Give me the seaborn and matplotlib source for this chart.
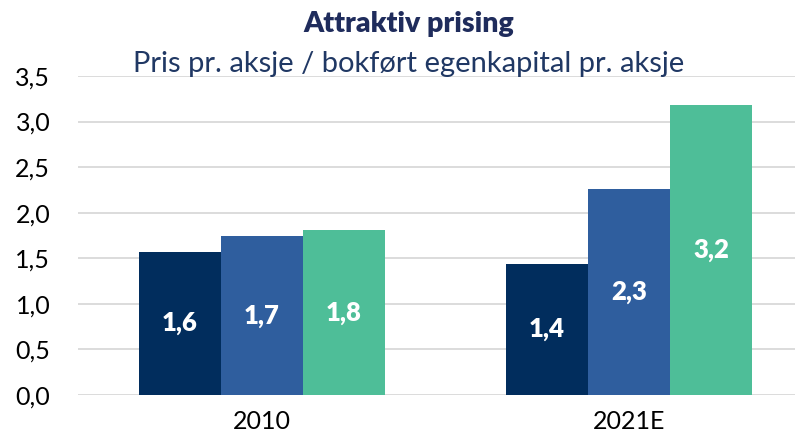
import matplotlib
matplotlib.use("Agg")
import matplotlib.pyplot as plt
import seaborn as sns
import pandas as pd

categories = ["2010", "2021E"]
series = ["Serie 1", "Serie 2", "Serie 3"]
values_s1 = [1.57, 1.44]
values_s2 = [1.74, 2.26]
values_s3 = [1.81, 3.18]
y_ticks = [0.0, 0.5, 1.0, 1.5, 2.0, 2.5, 3.0, 3.5]
title = "Attraktiv prising"
subtitle = "Pris pr. aksje / bokført egenkapital pr. aksje"
colors = ["#012D5D", "#2F5E9E", "#4EBE98"]

rows = []
for s, vals in zip(series, [values_s1, values_s2, values_s3]):
    for c, v in zip(categories, vals):
        rows.append({"kategori": c, "serie": s, "verdi": v})
df = pd.DataFrame(rows)

sns.set_theme(style="white")
plt.rcParams["font.family"] = ["Lato", "DejaVu Sans"]

fig = plt.figure(figsize=(7.95, 4.41), dpi=100)
ax = fig.add_axes([78 / 795, 46 / 441, (812.75 - 78) / 795, (395 - 76) / 441])

sns.barplot(data=df, x="kategori", y="verdi", hue="serie", order=categories,
            hue_order=series, palette=colors, width=0.67, saturation=1,
            legend=False, ax=ax, edgecolor="none", linewidth=0)

for cont in ax.containers:
    labels = [f"{b.get_height():.1f}".replace(".", ",") for b in cont]
    ax.bar_label(cont, labels=labels, label_type="center", color="white",
                 fontweight="heavy", fontsize=18.5)

ax.set_xlim(-0.5, 1.5)
ax.set_ylim(0, 3.5)
ax.set_yticks(y_ticks)
ax.set_yticklabels([f"{t:.1f}".replace(".", ",") for t in y_ticks])
ax.set_xlabel("")
ax.set_ylabel("")
ax.yaxis.grid(True, color="#D9D9D9", linewidth=1.3)
ax.set_axisbelow(True)
for sp in ax.spines.values():
    sp.set_visible(False)
ax.tick_params(axis="y", length=0, pad=20, labelsize=18, labelcolor="#000000")
ax.tick_params(axis="x", length=0, pad=11, labelsize=18, labelcolor="#000000")

fig.text(409 / 795, 1 - 32 / 441, title, ha="center", va="baseline",
         fontsize=20.5, fontweight="heavy", color="#1F2C5C")
fig.text(409 / 795, 1 - 72 / 441, subtitle, ha="center", va="baseline",
         fontsize=21, color="#203864")

fig.savefig("out.png", dpi=100)
